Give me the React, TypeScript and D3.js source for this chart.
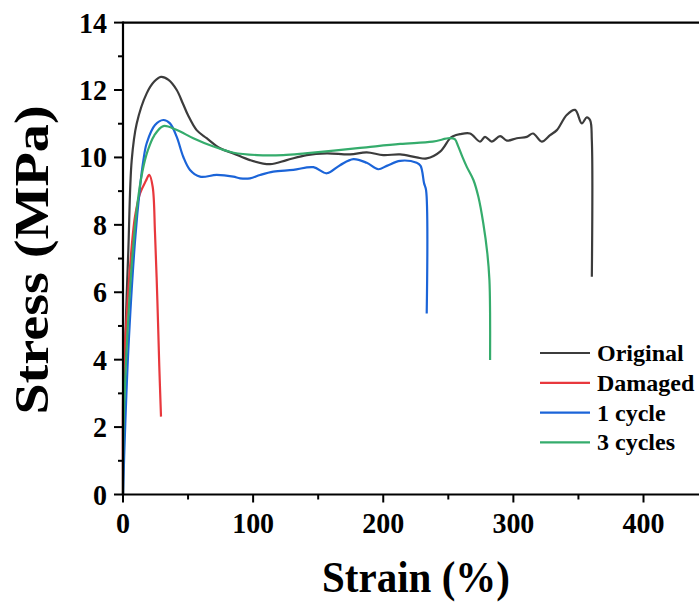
import React from "react";
import * as d3 from "d3";

// ---- Data (strain %, stress MPa) ----
const originalStrain = [0, 0.3, 1.5, 4.1, 6.7, 10.5, 18.2, 24, 29.2, 35, 41.3, 46, 50, 56.6, 64.3, 74.6, 84.8, 97.6, 113, 125.8, 141.2, 156.6, 174.5, 187.3, 200, 213, 225.7, 233.4, 243.7, 251.3, 253.6, 259, 266.7, 274.4, 278.2, 283.4, 289.8, 295, 302.6, 310.3, 315.1, 321.8, 328.2, 333.4, 341, 347.4, 352.6, 356.4, 359, 360.3, 360.3];
const originalStress = [0, 1.82, 4.29, 7.25, 9.92, 11.0, 11.9, 12.25, 12.39, 12.3, 12.0, 11.6, 11.25, 10.81, 10.57, 10.27, 10.12, 9.92, 9.8, 9.92, 10.07, 10.12, 10.09, 10.15, 10.07, 10.09, 10.0, 9.97, 10.17, 10.57, 10.63, 10.69, 10.71, 10.47, 10.61, 10.47, 10.63, 10.5, 10.57, 10.61, 10.71, 10.47, 10.66, 10.81, 11.26, 11.41, 11.01, 11.19, 11.1, 10.5, 6.46];

const damagedStrain = [0, 0.2, 2.8, 5.4, 9.2, 13.1, 17.5, 20.2, 22.8, 24.6, 26.4, 27.9, 29.2];
const damagedStress = [0, 3.3, 5.27, 6.76, 8.24, 8.93, 9.3, 9.48, 9.13, 7.75, 5.77, 3.79, 2.31];

const cycle1Strain = [0, 1.5, 4.1, 9.2, 13.1, 15.6, 18.2, 24.6, 31, 36.1, 41.3, 46.3, 51.5, 59.2, 72, 84.8, 90, 97.6, 105.3, 115.5, 130.9, 146.3, 156.6, 166.8, 177, 187.3, 196.2, 202.7, 213, 225.7, 228.7, 231.4, 232.9, 233.4];
const cycle1Stress = [0, 1.82, 4.29, 7.5, 9.13, 9.9, 10.42, 10.96, 11.11, 11.01, 10.61, 10.02, 9.63, 9.43, 9.48, 9.43, 9.38, 9.38, 9.48, 9.58, 9.63, 9.71, 9.53, 9.77, 9.95, 9.84, 9.65, 9.75, 9.9, 9.84, 9.75, 9.23, 9.03, 5.37];

const cycle3Strain = [0, 0.3, 2.8, 6.7, 11, 15, 19, 24, 31, 41, 54, 69, 85, 103, 123, 140, 162, 187, 213, 238, 251, 255, 257.7, 261, 264.2, 269.3, 273.1, 276.9, 280, 281.6, 282.1, 282.1];
const cycle3Stress = [0, 1.8, 4.3, 6.8, 8.6, 9.6, 10.2, 10.65, 10.93, 10.82, 10.57, 10.33, 10.14, 10.07, 10.07, 10.12, 10.2, 10.3, 10.4, 10.47, 10.57, 10.54, 10.32, 10.0, 9.72, 9.33, 8.83, 8.04, 7.15, 6.36, 5.37, 3.99];

const seriesNames = ["Original", "Damaged", "1 cycle", "3 cycles"];
const seriesColors = ["#3c3c3c", "#e8383d", "#1b64d8", "#35ac6c"];
const xTickValues = [0, 100, 200, 300, 400];
const xMinorTicks = [50, 150, 250, 350, 450];
const yTickValues = [0, 2, 4, 6, 8, 10, 12, 14];
const yMinorTicks = [1, 3, 5, 7, 9, 11, 13];

const W = 699;
const H = 604;
const FONT = "'Liberation Serif', 'Times New Roman', serif";

export default function App() {
  const x = d3.scaleLinear().domain([0, 450]).range([123, 123 + 450 * 1.30125]);
  const y = d3.scaleLinear().domain([0, 14]).range([494.5, 22.6]);

  const series = [
    { xs: originalStrain, ys: originalStress },
    { xs: damagedStrain, ys: damagedStress },
    { xs: cycle1Strain, ys: cycle1Stress },
    { xs: cycle3Strain, ys: cycle3Stress },
  ];

  const line = d3
    .line<[number, number]>()
    .x((d) => x(d[0]))
    .y((d) => y(d[1]))
    .curve(d3.curveCatmullRom.alpha(0.5));

  const x0 = x(0);
  const yb = y(0);
  const yt = y(14);

  return (
    <svg
      width={W}
      height={H}
      style={{ position: "absolute", left: 0, top: 0, background: "#fff" }}
      fontFamily={FONT}
    >
      <rect width={W} height={H} fill="#fff" />
      {/* data lines */}
      {series.map((s, i) => (
        <path
          key={i}
          d={line(s.xs.map((v, j) => [v, s.ys[j]] as [number, number])) || ""}
          fill="none"
          stroke={seriesColors[i]}
          strokeWidth={2.2}
          strokeLinejoin="round"
        />
      ))}

      {/* frame */}
      <line x1={x0} x2={W} y1={yb} y2={yb} stroke="#000" strokeWidth={2.2} />
      <line x1={x0} x2={W} y1={yt} y2={yt} stroke="#000" strokeWidth={2.2} />
      <line x1={x0} x2={x0} y1={yt - 1.1} y2={yb + 1.1} stroke="#000" strokeWidth={2.2} />

      {/* x ticks */}
      {xTickValues.map((v) => (
        <g key={"xt" + v}>
          <line x1={x(v)} x2={x(v)} y1={yb} y2={yb + 8} stroke="#000" strokeWidth={2} />
          <text
            transform={`translate(${x(v)}, 533) scale(1, 1.08)`}
            textAnchor="middle"
            fontSize={28}
            fontWeight="bold"
            fill="#000"
          >
            {v}
          </text>
        </g>
      ))}
      {xMinorTicks.map((v) => (
        <line key={"xm" + v} x1={x(v)} x2={x(v)} y1={yb} y2={yb + 5} stroke="#000" strokeWidth={2} />
      ))}

      {/* y ticks */}
      {yTickValues.map((v) => (
        <g key={"yt" + v}>
          <line x1={x0 - 9} x2={x0} y1={y(v)} y2={y(v)} stroke="#000" strokeWidth={2} />
          <text
            transform={`translate(107, ${y(v) + 10}) scale(1, 1.08)`}
            textAnchor="end"
            fontSize={28}
            fontWeight="bold"
            fill="#000"
          >
            {v}
          </text>
        </g>
      ))}
      {yMinorTicks.map((v) => (
        <line key={"ym" + v} x1={x0 - 5} x2={x0} y1={y(v)} y2={y(v)} stroke="#000" strokeWidth={2} />
      ))}

      {/* axis titles */}
      <text
        transform="translate(416, 592) scale(1, 1.06)"
        textAnchor="middle"
        fontSize={41}
        fontWeight="bold"
        fill="#000"
      >
        Strain (%)
      </text>
      <text
        transform="translate(48, 260) rotate(-90) scale(1.17, 1)"
        textAnchor="middle"
        fontSize={48}
        fontWeight="bold"
        fill="#000"
      >
        Stress (MPa)
      </text>

      {/* legend */}
      {seriesNames.map((name, i) => {
        const cy = 353 + i * 29.8;
        return (
          <g key={name}>
            <line x1={540} x2={590} y1={cy} y2={cy} stroke={seriesColors[i]} strokeWidth={2.2} />
            <text x={597} y={cy + 8} fontSize={24} fontWeight="bold" fill="#000">
              {name}
            </text>
          </g>
        );
      })}
    </svg>
  );
}
